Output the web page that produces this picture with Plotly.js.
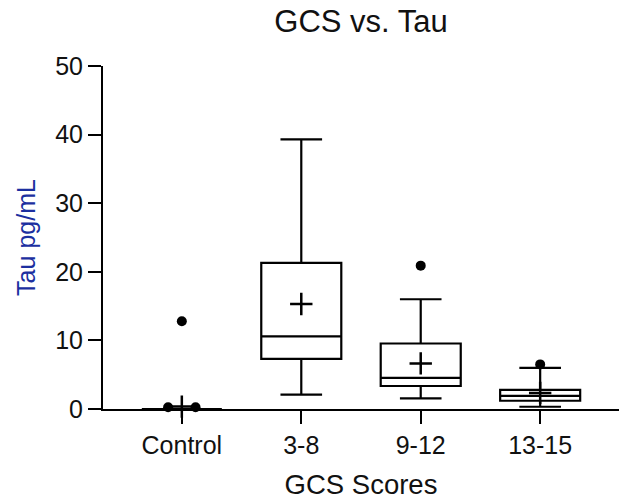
<!DOCTYPE html>
<html>
<head>
<meta charset="utf-8">
<script src="https://cdn.plot.ly/plotly-3.0.1.min.js"></script>
<style>html,body{margin:0;padding:0;background:#fff;}#chart{width:625px;height:500px;}</style>
</head>
<body>
<div id="chart"></div>
<script>
// ---- data ----
const categories = ['Control', '3-8', '9-12', '13-15'];
const lowerWhisker = [0, 2.1, 1.55, 0.33];
const q1Values = [0, 7.3, 3.35, 1.2];
const medianValues = [0, 10.6, 4.55, 1.9];
const q3Values = [0, 21.3, 9.55, 2.8];
const upperWhisker = [0, 39.3, 16.0, 6.0];
const meanValues = [0.35, 15.3, 6.65, 2.35];
const outlierGroup = [0, 0, 0, 2, 3];
const outlierValue = [12.8, 0.25, 0.25, 20.9, 6.5];
const yTicks = [0, 10, 20, 30, 40, 50];

// ---- build traces ----
const pos = categories.map((c, i) => i);
const FONT = 'Liberation Sans, Arial, Helvetica, sans-serif';

const boxTrace = {
  type: 'box',
  x: pos,
  q1: q1Values,
  median: medianValues,
  q3: q3Values,
  lowerfence: lowerWhisker,
  upperfence: upperWhisker,
  width: 0.67,
  whiskerwidth: 0.52,
  boxpoints: false,
  fillcolor: '#ffffff',
  line: {color: '#000000', width: 2.2},
  hoverinfo: 'skip',
  showlegend: false
};

const meanTrace = {
  type: 'scatter',
  mode: 'markers',
  x: pos,
  y: meanValues,
  marker: {symbol: 'cross-thin', size: 16, color: '#000', line: {color: '#000', width: 2.5}},
  cliponaxis: false,
  hoverinfo: 'skip',
  showlegend: false
};

// spread identical outliers in the same group side by side
const ox = [];
const seen = {};
outlierGroup.forEach((g, i) => {
  const key = g + '_' + outlierValue[i];
  const count = outlierGroup.filter((gg, j) => gg === g && outlierValue[j] === outlierValue[i]).length;
  seen[key] = (seen[key] || 0);
  const k = seen[key]++;
  const off = count > 1 ? (k - (count - 1) / 2) * 0.23 : 0;
  ox.push(g + off);
});

const outlierTrace = {
  type: 'scatter',
  mode: 'markers',
  x: ox,
  y: outlierValue,
  marker: {symbol: 'circle', size: 10, color: '#000'},
  cliponaxis: false,
  hoverinfo: 'skip',
  showlegend: false
};

const layout = {
  width: 625,
  height: 500,
  margin: {l: 103, r: 6, t: 66, b: 91},
  paper_bgcolor: '#fff',
  plot_bgcolor: '#fff',
  font: {family: FONT, color: '#000'},
  title: {
    text: 'GCS vs. Tau',
    font: {family: FONT, size: 31, color: '#111'},
    xref: 'paper', x: 0.5, xanchor: 'center',
    yref: 'container', y: 0.958, yanchor: 'middle'
  },
  xaxis: {
    range: [-0.66, 3.66],
    tickvals: pos,
    ticktext: categories,
    ticks: 'outside', ticklen: 13, tickwidth: 2, tickcolor: '#000',
    showline: true, linewidth: 2, linecolor: '#000',
    showgrid: false, zeroline: false,
    tickfont: {family: FONT, size: 25, color: '#111'},
    title: {text: 'GCS Scores', font: {family: FONT, size: 27.5, color: '#111'}, standoff: 17},
    automargin: false
  },
  yaxis: {
    range: [0, 50],
    tickvals: yTicks,
    ticks: 'outside', ticklen: 13, tickwidth: 2, tickcolor: '#000',
    showline: true, linewidth: 2, linecolor: '#000',
    showgrid: false, zeroline: false,
    tickfont: {family: FONT, size: 25, color: '#111'},
    title: {text: 'Tau pg/mL', font: {family: FONT, size: 25, color: '#1c2fa0'}, standoff: 12},
    automargin: false
  }
};

Plotly.newPlot('chart', [boxTrace, meanTrace, outlierTrace], layout, {displayModeBar: false, staticPlot: true});
</script>
</body>
</html>
